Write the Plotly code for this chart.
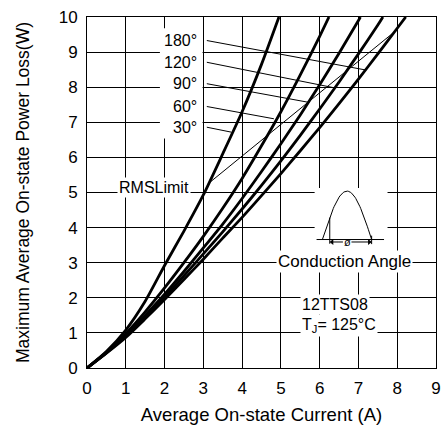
import numpy as np
import plotly.graph_objects as go

# ---------------- data ----------------
angles = ["30°", "60°", "90°", "120°", "180°"]

current_30 = [0, 0.5, 1, 1.5, 2, 2.5, 3, 3.5, 4, 4.5, 4.95]
loss_30 = [0, 0.47, 1.08, 1.9, 2.92, 3.9, 4.93, 6.1, 7.3, 8.65, 10]

current_60 = [0, 0.5, 1, 1.5, 2, 2.5, 3, 3.5, 4, 4.5, 5, 5.5, 6, 6.24]
loss_60 = [0, 0.45, 0.98, 1.6, 2.28, 3.0, 3.75, 4.55, 5.4, 6.33, 7.3, 8.35, 9.45, 10]

current_90 = [0, 0.5, 1, 1.5, 2, 2.5, 3, 3.5, 4, 4.5, 5, 5.5, 6, 6.5, 7, 7.05]
loss_90 = [0, 0.44, 0.94, 1.5, 2.1, 2.75, 3.42, 4.1, 4.83, 5.6, 6.39, 7.21, 8.07, 8.97, 9.9, 10]

current_120 = [0, 0.5, 1, 1.5, 2, 2.5, 3, 3.5, 4, 4.5, 5, 5.5, 6, 6.5, 7, 7.5, 7.63]
loss_120 = [0, 0.43, 0.91, 1.46, 2.02, 2.63, 3.25, 3.88, 4.53, 5.2, 5.9, 6.63, 7.38, 8.15, 8.95, 9.77, 10]

current_180 = [0, 0.5, 1, 1.5, 2, 2.5, 3, 3.5, 4, 4.5, 5, 5.5, 6, 6.5, 7, 7.5, 8, 8.22]
loss_180 = [0, 0.42, 0.87, 1.4, 1.95, 2.52, 3.1, 3.7, 4.29, 4.91, 5.54, 6.19, 6.85, 7.53, 8.23, 8.95, 9.68, 10]

rms_limit_current = [3.18, 7.91]
rms_limit_loss = [5.3, 9.56]

# label leader lines: label y, and the point on the curve they point to
label_y = [6.86, 7.45, 8.10, 8.71, 9.33]
leader_end_x = [3.72, 4.82, 5.71, 6.39, 7.19]
leader_end_y = [6.72, 7.10, 7.57, 7.98, 8.49]

x_ticks = list(range(0, 10))
y_ticks = list(range(0, 11))

FONT = "Liberation Sans, Arial, sans-serif"

fig = go.Figure()

# white backgrounds covering gridlines (between grid and traces)
shapes = [
    dict(type="rect", xref="x", yref="y", x0=1.88, x1=2.98, y0=6.54, y1=9.68,
         fillcolor="white", line=dict(width=0), layer="between"),
    dict(type="rect", xref="x", yref="y", x0=5.87, x1=7.75, y0=3.25, y1=5.13,
         fillcolor="white", line=dict(width=0), layer="between"),
]

curves = [(current_30, loss_30), (current_60, loss_60), (current_90, loss_90),
          (current_120, loss_120), (current_180, loss_180)]
for (cx, cy), name in zip(curves, angles):
    fig.add_trace(go.Scatter(x=cx, y=cy, mode="lines", name=name,
                             line=dict(color="black", width=2.8, shape="spline", smoothing=0.6),
                             hoverinfo="skip", showlegend=False))

fig.add_trace(go.Scatter(x=rms_limit_current, y=rms_limit_loss, mode="lines",
                         line=dict(color="black", width=1), hoverinfo="skip", showlegend=False))

leader_start_x = 3.09
for ly, ex, ey in zip(label_y, leader_end_x, leader_end_y):
    fig.add_trace(go.Scatter(x=[leader_start_x, ex], y=[ly, ey], mode="lines",
                             line=dict(color="black", width=1), hoverinfo="skip", showlegend=False))

# ---- conduction-angle inset drawing ----
base_y = 3.66
arrow_y = 3.59
hx0, hx1, hpeak = 6.07, 7.34, 5.04
t = np.linspace(0, 1, 60)
hump_x = hx0 + (hx1 - hx0) * t
hump_y = base_y + (hpeak - base_y) * np.sin(np.pi * t)
fire_x = 6.26
fire_top = base_y + (hpeak - base_y) * np.sin(np.pi * (fire_x - hx0) / (hx1 - hx0))
inset_lines = [
    (hump_x, hump_y),
    ([5.92, 7.66], [base_y, base_y]),
    ([fire_x, fire_x], [3.54, fire_top]),
    ([hx1, hx1], [3.53, 3.77]),
    ([fire_x + 0.04, 6.6], [arrow_y, arrow_y]),
    ([6.82, hx1 - 0.04], [arrow_y, arrow_y]),
]
for lx, ly in inset_lines:
    fig.add_trace(go.Scatter(x=lx, y=ly, mode="lines", line=dict(color="black", width=1),
                             hoverinfo="skip", showlegend=False))
fig.add_trace(go.Scatter(x=[fire_x + 0.06, hx1 - 0.06], y=[arrow_y, arrow_y], mode="markers",
                         marker=dict(symbol=["triangle-left", "triangle-right"], size=5, color="black"),
                         hoverinfo="skip", showlegend=False))

annotations = []
for lab, ly in zip(angles, label_y):
    annotations.append(dict(x=2.89, y=ly, xref="x", yref="y", text=lab, showarrow=False,
                            xanchor="right", yanchor="middle",
                            font=dict(family=FONT, size=16, color="black")))

annotations += [
    dict(x=1.72, y=5.13, text="RMSLimit", showarrow=False, bgcolor="white", borderpad=1,
         font=dict(family=FONT, size=16, color="black")),
    dict(x=6.63, y=3.04, text="Conduction Angle", showarrow=False, bgcolor="white", borderpad=1,
         font=dict(family=FONT, size=17, color="black")),
    dict(x=5.48, y=1.81, text="12TTS08", showarrow=False, bgcolor="white", borderpad=1,
         xanchor="left", font=dict(family=FONT, size=16, color="black")),
    dict(x=5.48, y=1.22, text="T<sub>J</sub>= 125°C", showarrow=False, bgcolor="white", borderpad=1,
         xanchor="left", font=dict(family=FONT, size=16, color="black")),
    dict(x=6.71, y=arrow_y, text="ø", showarrow=False, font=dict(family=FONT, size=11, color="black")),
]

axis_common = dict(showgrid=True, gridcolor="black", gridwidth=1, zeroline=False,
                   showline=True, linecolor="black", linewidth=1, mirror=True,
                   ticks="", tickfont=dict(family=FONT, size=17, color="black"))

fig.update_layout(
    width=446, height=435, autosize=False,
    margin=dict(l=87, r=5, t=17, b=67),
    paper_bgcolor="white", plot_bgcolor="white",
    shapes=shapes, annotations=annotations,
    xaxis=dict(range=[0, 9], tickvals=x_ticks, ticklabelstandoff=5,
               title=dict(text="Average On-state Current (A)", standoff=10,
                          font=dict(family=FONT, size=18.5, color="black")),
               **axis_common),
    yaxis=dict(range=[0, 10], tickvals=y_ticks, ticklabelstandoff=5,
               title=dict(text="Maximum Average On-state Power Loss(W)", standoff=24,
                          font=dict(family=FONT, size=17.5, color="black")),
               **axis_common),
)

fig.write_html("out.html", config={"displayModeBar": False},
               post_script="document.body.style.margin='0';document.body.style.overflow='hidden';")
